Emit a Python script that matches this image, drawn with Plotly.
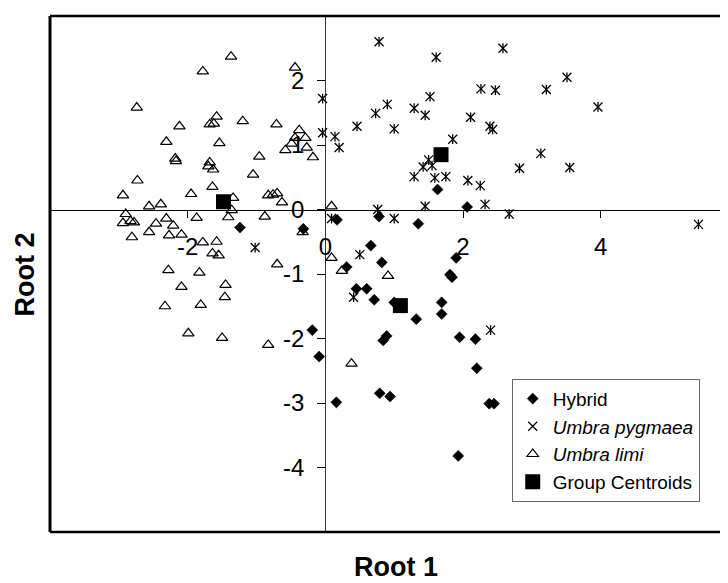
import plotly.graph_objects as go

FONT = "Liberation Sans, Arial, sans-serif"

# ---- data ----
hybrid_x = [1.63, 2.06, 0.78, 1.35, 0.17, -0.32, -1.24, 0.66, 0.82, 0.31, 0.45, 0.60,
            0.71, 1.00, 1.32, 1.69, 1.69, 1.90, 1.81, 1.84, -0.19, -0.09, 0.89, 0.84,
            1.95, 2.18, 2.20, 0.16, 0.79, 0.94, 2.38, 2.45, 1.93]
hybrid_y = [0.31, 0.04, -0.11, -0.22, -0.16, -0.30, -0.28, -0.56, -0.82, -0.89, -1.23, -1.23,
            -1.40, -1.44, -1.70, -1.44, -1.62, -0.75, -1.01, -1.05, -1.87, -2.28, -1.96, -2.03,
            -1.98, -2.01, -2.46, -2.99, -2.85, -2.90, -3.01, -3.01, -3.82]

pygmaea_x = [0.78, 2.58, 1.61, 3.51, 2.26, 2.47, 3.21, -0.04, 0.90, 0.73, 1.29, 1.45,
             1.52, 3.96, 2.11, 0.46, 1.00, -0.04, 0.14, 0.20, 2.39, 2.43, 1.85, 3.13,
             2.82, 3.55, 1.50, 1.42, 1.55, 1.29, 1.59, 1.75, 2.07, 2.25, 1.45, 2.32,
             2.67, 0.76, 1.00, 5.42, 0.50, 0.09, -1.02, 0.41, 2.40]
pygmaea_y = [2.60, 2.50, 2.36, 2.05, 1.87, 1.85, 1.86, 1.72, 1.63, 1.49, 1.57, 1.46,
             1.75, 1.59, 1.43, 1.29, 1.25, 1.19, 1.13, 0.96, 1.29, 1.24, 1.09, 0.87,
             0.64, 0.65, 0.77, 0.66, 0.68, 0.51, 0.49, 0.51, 0.45, 0.37, 0.05, 0.08,
             -0.07, 0.00, -0.14, -0.23, -0.70, -0.14, -0.59, -1.36, -1.87]

limi_x = [-1.37, -1.78, -0.44, -2.74, -2.12, -1.58, -1.68, -1.62, -1.20, -0.71, -0.38, -0.44,
          -0.29, -0.49, -0.58, -0.27, -0.18, -2.31, -1.54, -2.18, -2.17, -1.68, -1.70, -1.63,
          -0.96, -1.05, -2.73, -2.94, -1.95, -1.64, -1.34, -0.83, -0.76, -0.70, -0.63, -2.56,
          -2.39, -2.90, -2.94, -2.83, -2.78, -2.81, -2.46, -2.31, -2.21, -1.87, -2.56, -2.27,
          -2.09, -1.41, -1.36, -0.88, -1.78, -1.58, -1.64, -1.55, -2.28, -1.83, -0.70, -2.09,
          -1.45, -1.46, -2.33, -1.81, -1.99, -1.50, -0.83, -0.33, 0.09, 0.09, 0.24, 0.91, 0.38]
limi_y = [2.37, 2.14, 2.20, 1.58, 1.29, 1.44, 1.32, 1.33, 1.37, 1.32, 1.23, 1.11,
          1.11, 1.02, 0.92, 0.96, 0.81, 1.05, 1.03, 0.79, 0.75, 0.73, 0.67, 0.62,
          0.82, 0.54, 0.45, 0.22, 0.24, 0.35, 0.18, 0.22, 0.23, 0.25, 0.11, 0.05,
          0.08, -0.07, -0.21, -0.18, -0.20, -0.43, -0.22, -0.14, -0.25, -0.13, -0.35, -0.40,
          -0.39, -0.12, -0.01, -0.11, -0.51, -0.50, -0.68, -0.71, -0.94, -0.98, -0.85, -1.20,
          -1.17, -1.36, -1.50, -1.48, -1.92, -1.99, -2.10, -0.35, 0.05, -0.75, -0.95, -1.03, -2.39]

centroid_x = [-1.48, 1.68, 1.09]
centroid_y = [0.12, 0.85, -1.49]

x_tick_vals = [-2, 0, 2, 4]
x_tick_text = ["-2", "0", "2", "4"]
y_tick_vals = [-4, -3, -2, -1, 0, 1, 2]
y_tick_text = ["-4", "-3", "-2", "-1", "0", "1", "2"]

X_RANGE = [-4, 5.849]
Y_RANGE = [-5, 3]

fig = go.Figure()

fig.add_trace(go.Scatter(
    x=limi_x, y=limi_y, mode="markers", name="<i>Umbra limi</i>", legendrank=3,
    marker=dict(symbol="triangle-up-open", size=10, color="black",
                line=dict(color="black", width=1.2))))

fig.add_trace(go.Scatter(
    x=pygmaea_x, y=pygmaea_y, mode="markers", name="<i>Umbra pygmaea</i>",
    legendrank=2, legendgroup="pyg",
    marker=dict(symbol="x-thin-open", size=9, color="black",
                line=dict(color="black", width=1.3))))
fig.add_trace(go.Scatter(
    x=pygmaea_x, y=pygmaea_y, mode="markers", name="<i>Umbra pygmaea</i>",
    legendgroup="pyg", showlegend=False,
    marker=dict(symbol="line-ns-open", size=7, color="black",
                line=dict(color="black", width=1.3))))

fig.add_trace(go.Scatter(
    x=hybrid_x, y=hybrid_y, mode="markers", name="Hybrid", legendrank=1,
    marker=dict(symbol="diamond", size=8.5, color="black",
                line=dict(color="black", width=0.5))))

fig.add_trace(go.Scatter(
    x=centroid_x, y=centroid_y, mode="markers", name="Group Centroids", legendrank=4,
    marker=dict(symbol="square", size=15, color="black",
                line=dict(color="black", width=0))))

# page body keeps an 8px default margin, so the figure is 8px smaller
fig.update_layout(
    width=720, height=575,
    margin=dict(l=42, r=0, t=8, b=51),
    paper_bgcolor="white", plot_bgcolor="white",
    font=dict(family=FONT, color="black"),
    xaxis=dict(range=X_RANGE, anchor="free", position=0.625,
               showline=True, linecolor="black", linewidth=1.3,
               showgrid=False, zeroline=False,
               ticks="outside", ticklen=7, tickwidth=1, tickcolor="black",
               tickvals=x_tick_vals, ticktext=x_tick_text,
               tickfont=dict(size=24, family=FONT, color="black"),
               ticklabelstandoff=9, layer="below traces"),
    yaxis=dict(range=Y_RANGE, anchor="free", position=4 / 9.849,
               showline=True, linecolor="#333", linewidth=1.3,
               showgrid=False, zeroline=False,
               ticks="outside", ticklen=8, tickwidth=1, tickcolor="black",
               tickvals=y_tick_vals, ticktext=y_tick_text,
               tickfont=dict(size=24, family=FONT, color="black"),
               ticklabelstandoff=8, layer="below traces"),
    legend=dict(x=0.681, y=0.297, xanchor="left", yanchor="top",
                bgcolor="white", bordercolor="#666", borderwidth=1,
                font=dict(size=19, family=FONT, color="black"),
                tracegroupgap=0),
    shapes=[
        dict(type="line", xref="paper", yref="paper", x0=0, x1=0, y0=0, y1=1,
             line=dict(color="black", width=3)),
        dict(type="line", xref="paper", yref="paper", x0=0, x1=1, y0=1, y1=1,
             line=dict(color="black", width=2.5)),
        dict(type="line", xref="paper", yref="paper", x0=0, x1=1, y0=0, y1=0,
             line=dict(color="black", width=2.5)),
    ],
    annotations=[
        dict(text="<b>Root 1</b>", xref="paper", yref="paper", x=0.5096, y=-0.0669,
             xanchor="center", yanchor="middle", showarrow=False,
             font=dict(size=27, family=FONT, color="black")),
        dict(text="<b>Root 2</b>", xref="paper", yref="paper", x=-0.0612, y=0.498,
             xanchor="left", yanchor="middle", showarrow=False, textangle=-90,
             font=dict(size=27, family=FONT, color="black")),
    ],
)

fig.write_html("out.html")
